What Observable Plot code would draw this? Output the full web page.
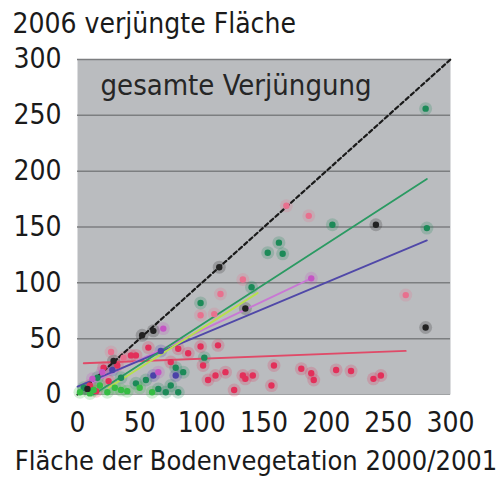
<!DOCTYPE html>
<html>
<head>
<meta charset="utf-8">
<script src="https://cdn.jsdelivr.net/npm/d3@7"></script>
<script src="https://cdn.jsdelivr.net/npm/@observablehq/plot@0.6"></script>
<style>
  html, body { margin: 0; padding: 0; background: #fff; }
</style>
</head>
<body>
<div id="chart"></div>
<script>
// ---- data ----
const title = "2006 verjüngte Fläche";
const xLabel = "Fläche der Bodenvegetation 2000/2001";
const panelLabel = "gesamte Verjüngung";
const xTicks = [0, 50, 100, 150, 200, 250, 300];
const yTicks = [0, 50, 100, 150, 200, 250, 300];
const gridY = [50, 100, 150, 200, 250, 300];

// red points
const redX = [57, 47, 89, 99, 113, 81, 158, 101, 105, 111, 119, 133, 135, 141, 126, 156, 21, 32, 43, 15, 180, 188, 190, 208, 220, 238, 244, 75, 10, 25];
const redY = [42, 35, 37, 43, 44, 41, 26, 26, 13, 17, 20, 17, 14, 17, 4, 8, 24, 26, 35, 3, 23, 19, 13, 22, 21, 14, 17, 29, 8, 12];
// rose / pink points
const roseX = [264, 133, 115, 186, 168, 37, 27, 99, 110];
const roseY = [89, 103, 90, 160, 169, 33, 38, 71, 72];
// dark green points
const greenX = [280, 281, 205, 153, 162, 165, 140, 99, 102, 79, 85, 71, 81, 75, 55, 47, 16, 5, 35, 65];
const greenY = [256, 149, 152, 127, 136, 126, 96, 82, 33, 24, 20, 2, 2, 8, 13, 10, 15, 6, 15, 5];
// bright green points
const limeX = [35, 24, 13, 2, 10, 30, 40, 60, 18, 50];
const limeY = [4, 2, 4, 2, 1, 6, 3, 2, 8, 6];
// black points
const blackX = [280, 240, 114, 52, 29, 135, 61, 8];
const blackY = [60, 152, 114, 53, 30, 77, 57, 5];
// blue points
const blueX = [67, 79, 61, 28];
const blueY = [39, 17, 17, 22];
// magenta / lavender points
const magX = [20, 188, 69, 65, 12];
const magY = [20, 104, 59, 20, 14];

// fitted lines (endpoints)
const fitRedX = [5, 264],   fitRedY = [28, 39];
const fitGreenX = [13, 281], fitGreenY = [0, 193];
const fitLimeX = [25, 145],  fitLimeY = [6, 91];
const fitBlueX = [0, 281],   fitBlueY = [7, 138];
const fitMagX = [10, 188],   fitMagY = [10, 104];
const diagX = [0, 300],      diagY = [0, 300];

// ---- build tables ----
const zip = (xs, ys, g) => xs.map((x, i) => ({x, y: ys[i], g}));
const points = [
  ...zip(redX, redY, "red"),
  ...zip(roseX, roseY, "rose"),
  ...zip(greenX, greenY, "green"),
  ...zip(limeX, limeY, "lime"),
  ...zip(blueX, blueY, "blue"),
  ...zip(magX, magY, "mag"),
  ...zip(blackX, blackY, "black")
];
const fits = [
  ...zip(fitRedX, fitRedY, "red"),
  ...zip(fitMagX, fitMagY, "mag"),
  ...zip(fitBlueX, fitBlueY, "blue"),
  ...zip(fitGreenX, fitGreenY, "green"),
  ...zip(fitLimeX, fitLimeY, "lime")
];
const colors = {
  red: "#e2305a", rose: "#e8708e", green: "#1c8a58", lime: "#36bc44",
  blue: "#4a42a8", mag: "#c455c4", black: "#222222"
};
const lineColors = {
  red: "#e04a68", rose: "#e8708e", green: "#2a9a62", lime: "#b8e04c",
  blue: "#5048a8", mag: "#c878d4", black: "#222"
};

const FONT = "'DejaVu Sans Condensed', 'Liberation Sans Narrow', 'Open Sans', sans-serif";

const chart = Plot.plot({
  width: 504,
  height: 479,
  marginLeft: 77,
  marginRight: 54,
  marginTop: 59,
  marginBottom: 85,
  style: {fontFamily: FONT, fontSize: "27px", color: "#1a1a1a", background: "#fff"},
  x: {domain: [0, 300], label: null},
  y: {domain: [0, 300], label: null},
  marks: [
    Plot.frame({fill: "#babcbf", stroke: null}),
    Plot.ruleY(gridY, {stroke: "#7c7e80", strokeWidth: 1.5}),
    Plot.ruleY([0], {stroke: "#a0a2a4", strokeWidth: 1}),
    Plot.axisY({ticks: yTicks, tickSize: 0, tickPadding: 16, fontSize: 28, fill: "#1a1a1a"}),
    Plot.axisX({ticks: xTicks, tickSize: 0, tickPadding: 18, fontSize: 28, fill: "#1a1a1a"}),
    // halos
    Plot.dot(points, {x: "x", y: "y", r: 6.5, fill: d => colors[d.g], fillOpacity: 0.22, stroke: null}),
    Plot.line(fits, {x: "x", y: "y", z: "g", stroke: d => lineColors[d.g], strokeWidth: 1.8}),
    Plot.line(zip(diagX, diagY, "diag"), {x: "x", y: "y", stroke: "#1a1a1a", strokeWidth: 2.2, strokeDasharray: "4,3"}),
    Plot.dot(points, {x: "x", y: "y", r: 3.2, fill: d => colors[d.g], stroke: null}),
    Plot.text([panelLabel], {frameAnchor: "top-left", dx: 23, dy: 26, textAnchor: "start", lineAnchor: "middle", fontSize: 29, fill: "#262626"}),
    Plot.text([title], {frameAnchor: "top-left", dx: -65, dy: -35, textAnchor: "start", lineAnchor: "middle", fontSize: 28, fill: "#1a1a1a"}),
    Plot.text([xLabel], {frameAnchor: "bottom", dx: -8, dy: 67, textAnchor: "middle", lineAnchor: "middle", fontSize: 27, fill: "#1a1a1a"})
  ]
});
document.getElementById("chart").appendChild(chart);
</script>
</body>
</html>
